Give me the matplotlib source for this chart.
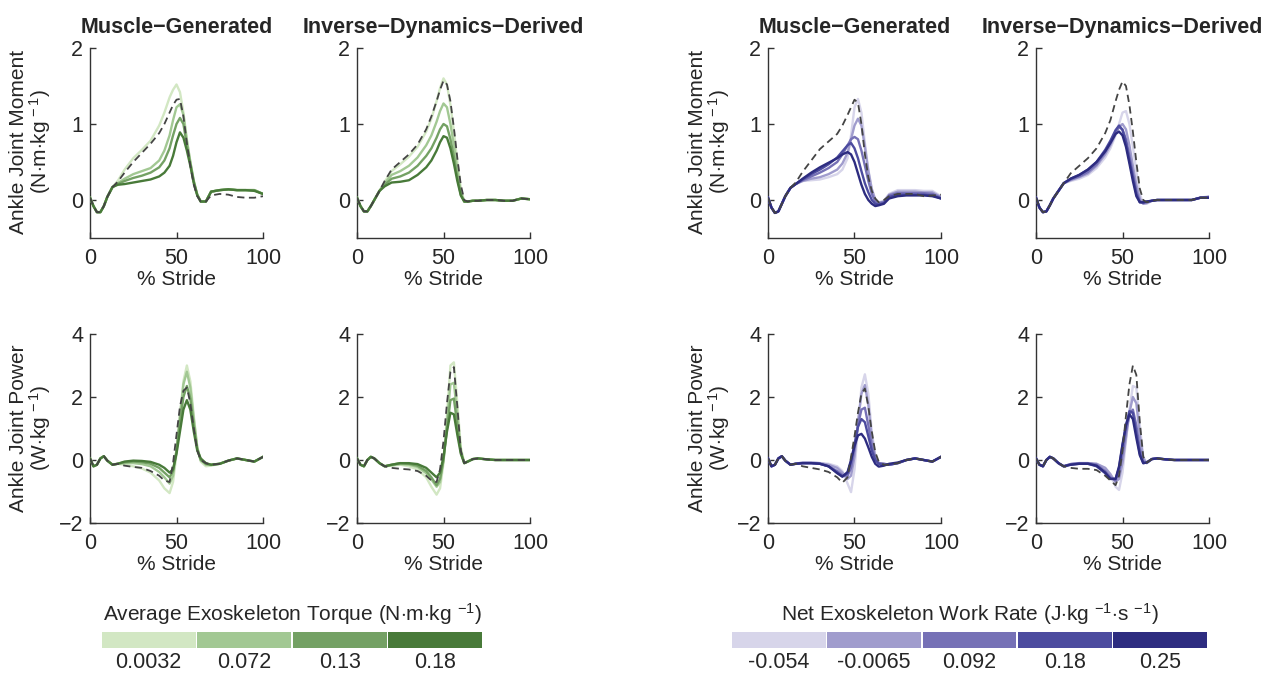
import numpy as np
import matplotlib
matplotlib.use('Agg')
import matplotlib.pyplot as plt

plt.rcParams['font.family'] = ['Liberation Sans', 'DejaVu Sans']
plt.rcParams['mathtext.fontset'] = 'custom'
plt.rcParams['mathtext.rm'] = 'Liberation Sans'
plt.rcParams['mathtext.it'] = 'Liberation Sans'

# % stride sample points
stride = [0, 2, 4, 6, 8, 10, 13, 16, 20, 25, 30, 35, 40, 43, 46, 48, 50, 52, 54, 56, 58, 60, 62, 64, 67, 70, 75, 80, 85, 90, 95, 100]

# legend values
torque_vals = ['0.0032', '0.072', '0.13', '0.18']
work_vals = ['-0.054', '-0.0065', '0.092', '0.18', '0.25']
green = ['#d2e7c3', '#a2c893', '#74a164', '#487a39']
purple = ['#d7d5ea', '#a09ccd', '#7671b6', '#4c4b9f', '#2d2c80']

# ---- ankle moment, muscle generated, green (torque groups) ----
mom_mus_g_norm = [0.03, -0.08, -0.16, -0.16, -0.08, 0.04, 0.17, 0.24, 0.36, 0.50, 0.62, 0.74, 0.88, 1.00, 1.15, 1.25, 1.32, 1.33, 1.10, 0.75, 0.45, 0.20, 0.05, -0.02, -0.02, 0.06, 0.08, 0.07, 0.04, 0.03, 0.03, 0.05]
mom_mus_g = [
    [0.03, -0.08, -0.16, -0.16, -0.08, 0.04, 0.17, 0.25, 0.40, 0.55, 0.66, 0.78, 0.98, 1.15, 1.35, 1.45, 1.52, 1.42, 1.15, 0.80, 0.50, 0.25, 0.07, -0.02, -0.02, 0.11, 0.13, 0.14, 0.13, 0.13, 0.13, 0.08],
    [0.03, -0.08, -0.16, -0.16, -0.08, 0.04, 0.17, 0.22, 0.28, 0.34, 0.38, 0.42, 0.52, 0.65, 0.85, 1.05, 1.22, 1.26, 1.12, 0.78, 0.50, 0.25, 0.07, -0.02, -0.02, 0.11, 0.13, 0.14, 0.13, 0.13, 0.13, 0.08],
    [0.03, -0.08, -0.16, -0.16, -0.08, 0.04, 0.17, 0.21, 0.25, 0.29, 0.32, 0.36, 0.43, 0.52, 0.68, 0.85, 1.00, 1.08, 1.00, 0.72, 0.48, 0.24, 0.07, -0.02, -0.02, 0.11, 0.13, 0.14, 0.13, 0.13, 0.13, 0.08],
    [0.03, -0.08, -0.16, -0.16, -0.08, 0.04, 0.17, 0.20, 0.21, 0.23, 0.25, 0.27, 0.31, 0.36, 0.45, 0.58, 0.76, 0.89, 0.82, 0.65, 0.45, 0.22, 0.06, -0.02, -0.02, 0.11, 0.13, 0.14, 0.13, 0.13, 0.12, 0.08],
]

# ---- ankle moment, inverse dynamics, green ----
mom_id_g_norm = [0.03, -0.08, -0.15, -0.15, -0.08, 0.00, 0.12, 0.25, 0.40, 0.50, 0.60, 0.73, 0.93, 1.10, 1.30, 1.45, 1.57, 1.52, 1.30, 0.95, 0.55, 0.20, 0.00, -0.02, -0.01, -0.01, 0.00, 0.00, -0.01, -0.01, 0.02, 0.01]
mom_id_g = [
    [0.03, -0.08, -0.15, -0.15, -0.08, 0.00, 0.12, 0.24, 0.38, 0.47, 0.57, 0.70, 0.90, 1.07, 1.30, 1.47, 1.60, 1.52, 1.25, 0.90, 0.50, 0.15, -0.02, -0.02, -0.01, -0.01, 0.00, 0.00, -0.01, -0.01, 0.02, 0.01],
    [0.03, -0.08, -0.15, -0.15, -0.08, 0.00, 0.12, 0.22, 0.33, 0.38, 0.45, 0.56, 0.72, 0.85, 1.03, 1.17, 1.27, 1.22, 1.00, 0.72, 0.40, 0.10, -0.02, -0.02, -0.01, -0.01, 0.00, 0.00, -0.01, -0.01, 0.02, 0.01],
    [0.03, -0.08, -0.15, -0.15, -0.08, 0.00, 0.12, 0.20, 0.28, 0.31, 0.36, 0.45, 0.58, 0.68, 0.82, 0.93, 1.00, 0.97, 0.80, 0.57, 0.30, 0.07, -0.02, -0.02, -0.01, -0.01, 0.00, 0.00, -0.01, -0.01, 0.02, 0.01],
    [0.03, -0.08, -0.15, -0.15, -0.08, 0.00, 0.12, 0.18, 0.23, 0.24, 0.26, 0.33, 0.43, 0.52, 0.65, 0.76, 0.84, 0.82, 0.68, 0.48, 0.25, 0.06, -0.02, -0.02, -0.01, -0.01, 0.00, 0.00, -0.01, -0.01, 0.02, 0.01],
]

# ---- ankle moment, muscle generated, purple (work rate groups) ----
mom_mus_p_norm = [0.03, -0.10, -0.17, -0.15, -0.05, 0.05, 0.16, 0.23, 0.37, 0.52, 0.67, 0.77, 0.87, 0.98, 1.12, 1.22, 1.32, 1.28, 1.00, 0.60, 0.30, 0.12, 0.02, -0.03, 0.00, 0.05, 0.08, 0.08, 0.08, 0.05, 0.06, 0.07]
mom_mus_p = [
    [0.03, -0.10, -0.17, -0.15, -0.05, 0.05, 0.16, 0.21, 0.25, 0.26, 0.27, 0.30, 0.34, 0.40, 0.55, 0.85, 1.22, 1.33, 1.15, 0.75, 0.40, 0.15, 0.01, -0.03, -0.01, 0.08, 0.13, 0.13, 0.13, 0.12, 0.12, 0.05],
    [0.03, -0.10, -0.17, -0.15, -0.05, 0.05, 0.16, 0.21, 0.25, 0.28, 0.30, 0.34, 0.40, 0.48, 0.62, 0.80, 0.98, 1.07, 0.98, 0.70, 0.38, 0.14, 0.00, -0.04, -0.02, 0.07, 0.11, 0.11, 0.11, 0.10, 0.10, 0.04],
    [0.03, -0.10, -0.17, -0.15, -0.05, 0.05, 0.16, 0.21, 0.26, 0.31, 0.36, 0.42, 0.50, 0.60, 0.72, 0.80, 0.83, 0.80, 0.65, 0.45, 0.25, 0.08, -0.02, -0.04, -0.03, 0.06, 0.09, 0.09, 0.09, 0.09, 0.08, 0.03],
    [0.03, -0.10, -0.17, -0.15, -0.05, 0.05, 0.16, 0.21, 0.27, 0.34, 0.40, 0.47, 0.56, 0.64, 0.72, 0.75, 0.68, 0.55, 0.38, 0.22, 0.10, 0.00, -0.05, -0.06, -0.04, 0.04, 0.07, 0.07, 0.07, 0.07, 0.06, 0.02],
    [0.03, -0.10, -0.17, -0.15, -0.05, 0.05, 0.16, 0.21, 0.28, 0.36, 0.43, 0.49, 0.55, 0.60, 0.63, 0.60, 0.50, 0.35, 0.20, 0.08, 0.00, -0.05, -0.08, -0.07, -0.05, 0.02, 0.05, 0.06, 0.06, 0.06, 0.05, 0.02],
]

# ---- ankle moment, inverse dynamics, purple ----
mom_id_p_norm = [0.03, -0.10, -0.16, -0.15, -0.07, 0.02, 0.12, 0.22, 0.35, 0.45, 0.55, 0.68, 0.88, 1.05, 1.30, 1.45, 1.56, 1.50, 1.25, 0.90, 0.50, 0.15, 0.00, -0.03, -0.01, 0.00, 0.00, 0.00, 0.00, 0.00, 0.03, 0.03]
mom_id_p = [
    [0.03, -0.10, -0.16, -0.15, -0.07, 0.02, 0.12, 0.22, 0.25, 0.28, 0.33, 0.42, 0.56, 0.68, 0.85, 1.00, 1.15, 1.17, 1.00, 0.70, 0.38, 0.08, -0.05, -0.05, -0.01, 0.00, 0.00, 0.00, 0.00, 0.00, 0.03, 0.05],
    [0.03, -0.10, -0.16, -0.15, -0.07, 0.02, 0.12, 0.22, 0.26, 0.30, 0.35, 0.45, 0.60, 0.72, 0.87, 0.96, 1.00, 0.93, 0.72, 0.45, 0.20, 0.02, -0.05, -0.04, -0.01, 0.00, 0.00, 0.00, 0.00, 0.00, 0.03, 0.04],
    [0.03, -0.10, -0.16, -0.15, -0.07, 0.02, 0.12, 0.22, 0.27, 0.31, 0.37, 0.47, 0.63, 0.75, 0.90, 0.96, 0.93, 0.80, 0.58, 0.35, 0.12, -0.02, -0.04, -0.03, -0.01, 0.00, 0.00, 0.00, 0.00, 0.00, 0.03, 0.04],
    [0.03, -0.10, -0.16, -0.15, -0.07, 0.02, 0.12, 0.22, 0.28, 0.33, 0.40, 0.50, 0.66, 0.78, 0.92, 0.98, 0.92, 0.76, 0.52, 0.30, 0.08, -0.03, -0.03, -0.02, -0.01, 0.00, 0.00, 0.00, 0.00, 0.00, 0.03, 0.03],
    [0.03, -0.10, -0.16, -0.15, -0.07, 0.02, 0.12, 0.22, 0.28, 0.33, 0.40, 0.50, 0.64, 0.75, 0.87, 0.90, 0.85, 0.70, 0.48, 0.25, 0.05, -0.03, -0.03, -0.02, -0.01, 0.00, 0.00, 0.00, 0.00, 0.00, 0.03, 0.03],
]

# ---- ankle power, muscle generated, green ----
pow_mus_g_norm = [0.05, -0.20, -0.15, 0.05, 0.12, -0.02, -0.15, -0.12, -0.18, -0.22, -0.25, -0.35, -0.50, -0.65, -0.70, -0.10, 0.80, 1.70, 2.20, 2.30, 1.80, 1.00, 0.30, 0.00, -0.10, -0.15, -0.12, -0.02, 0.05, 0.00, -0.05, 0.10]
pow_mus_g = [
    [0.05, -0.20, -0.15, 0.05, 0.12, -0.02, -0.15, -0.12, -0.15, -0.20, -0.27, -0.40, -0.65, -0.90, -1.05, -0.70, 0.20, 1.40, 2.50, 3.00, 2.50, 1.40, 0.40, -0.05, -0.20, -0.18, -0.12, -0.02, 0.05, 0.00, -0.05, 0.10],
    [0.05, -0.20, -0.15, 0.05, 0.12, -0.02, -0.15, -0.12, -0.10, -0.10, -0.13, -0.20, -0.38, -0.55, -0.75, -0.50, 0.30, 1.40, 2.40, 2.80, 2.30, 1.30, 0.40, 0.00, -0.15, -0.16, -0.12, -0.02, 0.05, 0.00, -0.05, 0.10],
    [0.05, -0.20, -0.15, 0.05, 0.12, -0.02, -0.15, -0.12, -0.07, -0.05, -0.07, -0.12, -0.25, -0.40, -0.55, -0.35, 0.30, 1.20, 2.00, 2.35, 1.95, 1.10, 0.35, 0.00, -0.12, -0.15, -0.12, -0.02, 0.05, 0.00, -0.05, 0.10],
    [0.05, -0.20, -0.15, 0.05, 0.12, -0.02, -0.15, -0.12, -0.05, -0.02, -0.03, -0.06, -0.15, -0.25, -0.40, -0.30, 0.20, 0.90, 1.60, 1.90, 1.60, 0.90, 0.30, 0.05, -0.10, -0.15, -0.12, -0.02, 0.05, 0.00, -0.05, 0.10],
]

# ---- ankle power, inverse dynamics, green ----
pow_id_g_norm = [0.05, -0.15, -0.20, 0.00, 0.10, 0.05, -0.10, -0.20, -0.25, -0.28, -0.30, -0.35, -0.50, -0.65, -0.70, -0.30, 0.60, 1.80, 2.80, 2.95, 1.70, 0.30, -0.10, -0.05, 0.03, 0.05, 0.02, 0.00, 0.00, 0.00, 0.00, 0.00]
pow_id_g = [
    [0.05, -0.15, -0.20, 0.00, 0.10, 0.05, -0.10, -0.20, -0.18, -0.15, -0.20, -0.30, -0.55, -0.85, -1.10, -0.90, -0.10, 1.40, 3.00, 3.10, 1.80, 0.40, -0.10, -0.05, 0.03, 0.05, 0.02, 0.00, 0.00, 0.00, 0.00, 0.00],
    [0.05, -0.15, -0.20, 0.00, 0.10, 0.05, -0.10, -0.20, -0.17, -0.13, -0.15, -0.22, -0.42, -0.62, -0.85, -0.70, 0.00, 1.20, 2.40, 2.45, 1.40, 0.30, -0.10, -0.05, 0.03, 0.05, 0.02, 0.00, 0.00, 0.00, 0.00, 0.00],
    [0.05, -0.15, -0.20, 0.00, 0.10, 0.05, -0.10, -0.20, -0.15, -0.10, -0.12, -0.18, -0.35, -0.55, -0.80, -0.60, 0.00, 1.00, 1.90, 1.95, 1.10, 0.25, -0.10, -0.05, 0.03, 0.05, 0.02, 0.00, 0.00, 0.00, 0.00, 0.00],
    [0.05, -0.15, -0.20, 0.00, 0.10, 0.05, -0.10, -0.20, -0.15, -0.10, -0.10, -0.13, -0.25, -0.40, -0.55, -0.40, 0.10, 0.90, 1.50, 1.45, 0.80, 0.20, -0.10, -0.05, 0.03, 0.05, 0.02, 0.00, 0.00, 0.00, 0.00, 0.00],
]

# ---- ankle power, muscle generated, purple ----
pow_mus_p_norm = [0.05, -0.20, -0.15, 0.05, 0.12, -0.02, -0.15, -0.12, -0.20, -0.25, -0.30, -0.38, -0.55, -0.72, -0.55, 0.10, 0.75, 1.50, 2.10, 2.27, 1.70, 0.90, 0.25, -0.05, -0.15, -0.15, -0.10, 0.00, 0.05, 0.00, -0.05, 0.10]
pow_mus_p = [
    [0.05, -0.20, -0.15, 0.05, 0.12, -0.02, -0.15, -0.12, -0.08, -0.08, -0.10, -0.12, -0.20, -0.35, -0.75, -1.02, -0.30, 1.00, 2.30, 2.72, 2.10, 0.90, 0.15, -0.10, -0.15, -0.15, -0.10, 0.00, 0.05, 0.00, -0.05, 0.10],
    [0.05, -0.20, -0.15, 0.05, 0.12, -0.02, -0.15, -0.12, -0.08, -0.08, -0.10, -0.15, -0.25, -0.40, -0.60, -0.50, 0.10, 1.20, 2.10, 2.38, 1.75, 0.70, 0.10, -0.10, -0.12, -0.15, -0.10, 0.00, 0.05, 0.00, -0.05, 0.10],
    [0.05, -0.20, -0.15, 0.05, 0.12, -0.02, -0.15, -0.12, -0.10, -0.10, -0.12, -0.20, -0.35, -0.48, -0.50, -0.25, 0.35, 1.10, 1.60, 1.66, 1.10, 0.45, 0.05, -0.10, -0.12, -0.15, -0.10, 0.00, 0.05, 0.00, -0.05, 0.10],
    [0.05, -0.20, -0.15, 0.05, 0.12, -0.02, -0.15, -0.12, -0.10, -0.10, -0.12, -0.20, -0.40, -0.52, -0.42, -0.05, 0.50, 1.05, 1.30, 1.20, 0.75, 0.30, 0.00, -0.12, -0.15, -0.15, -0.10, 0.00, 0.05, 0.00, -0.05, 0.10],
    [0.05, -0.20, -0.15, 0.05, 0.12, -0.02, -0.15, -0.12, -0.10, -0.10, -0.12, -0.20, -0.42, -0.53, -0.38, 0.00, 0.45, 0.78, 0.83, 0.68, 0.40, 0.10, -0.12, -0.21, -0.18, -0.12, -0.08, 0.00, 0.05, 0.00, -0.05, 0.10],
]

# ---- ankle power, inverse dynamics, purple ----
pow_id_p_norm = [0.05, -0.15, -0.20, 0.00, 0.10, 0.05, -0.10, -0.20, -0.25, -0.28, -0.28, -0.32, -0.50, -0.65, -0.80, -0.50, 0.30, 1.40, 2.40, 3.00, 2.70, 1.20, 0.10, -0.08, 0.03, 0.05, 0.02, 0.00, 0.00, 0.00, 0.00, 0.00]
pow_id_p = [
    [0.05, -0.15, -0.20, 0.00, 0.10, 0.05, -0.10, -0.20, -0.13, -0.10, -0.10, -0.12, -0.25, -0.45, -0.85, -0.95, -0.40, 0.60, 1.60, 2.35, 2.30, 1.10, 0.10, -0.10, 0.03, 0.05, 0.02, 0.00, 0.00, 0.00, 0.00, 0.00],
    [0.05, -0.15, -0.20, 0.00, 0.10, 0.05, -0.10, -0.20, -0.13, -0.10, -0.10, -0.12, -0.25, -0.45, -0.70, -0.60, -0.10, 0.70, 1.50, 2.00, 1.80, 0.80, 0.05, -0.10, 0.03, 0.05, 0.02, 0.00, 0.00, 0.00, 0.00, 0.00],
    [0.05, -0.15, -0.20, 0.00, 0.10, 0.05, -0.10, -0.20, -0.13, -0.10, -0.10, -0.15, -0.35, -0.55, -0.65, -0.40, 0.20, 0.90, 1.45, 1.60, 1.10, 0.35, -0.05, -0.08, 0.03, 0.05, 0.02, 0.00, 0.00, 0.00, 0.00, 0.00],
    [0.05, -0.15, -0.20, 0.00, 0.10, 0.05, -0.10, -0.20, -0.15, -0.12, -0.12, -0.20, -0.42, -0.60, -0.60, -0.25, 0.45, 1.10, 1.55, 1.50, 0.85, 0.20, -0.10, -0.08, 0.03, 0.05, 0.02, 0.00, 0.00, 0.00, 0.00, 0.00],
    [0.05, -0.15, -0.20, 0.00, 0.10, 0.05, -0.10, -0.20, -0.15, -0.12, -0.12, -0.18, -0.40, -0.60, -0.60, -0.20, 0.50, 1.10, 1.45, 1.30, 0.70, 0.15, -0.10, -0.08, 0.03, 0.05, 0.02, 0.00, 0.00, 0.00, 0.00, 0.00],
]

W, H = 1284, 675
fig = plt.figure(figsize=(W / 100, H / 100), dpi=100)

def box(x0, x1, ytop, ybot):
    return [x0 / W, 1 - ybot / H, (x1 - x0) / W, (ybot - ytop) / H]

cols = [(90, 263), (357, 530), (768, 941), (1036, 1209)]
rows = [(48, 238), (334, 523)]
dark = '#262626'

panels = [
    (0, 0, mom_mus_g, mom_mus_g_norm, green, 'Muscle\u2212Generated'),
    (0, 1, mom_id_g, mom_id_g_norm, green, 'Inverse\u2212Dynamics\u2212Derived'),
    (0, 2, mom_mus_p, mom_mus_p_norm, purple, 'Muscle\u2212Generated'),
    (0, 3, mom_id_p, mom_id_p_norm, purple, 'Inverse\u2212Dynamics\u2212Derived'),
    (1, 0, pow_mus_g, pow_mus_g_norm, green, None),
    (1, 1, pow_id_g, pow_id_g_norm, green, None),
    (1, 2, pow_mus_p, pow_mus_p_norm, purple, None),
    (1, 3, pow_id_p, pow_id_p_norm, purple, None),
]

for r, c, curves, norm, cmap, title in panels:
    ax = fig.add_axes(box(cols[c][0], cols[c][1], rows[r][0], rows[r][1]))
    for k, yv in enumerate(curves):
        ax.plot(stride, yv, color=cmap[k], lw=1.7, solid_joinstyle='round', zorder=2 + k)
    ax.plot(stride, norm, color='#444444', lw=1.3, ls=(0, (4, 2.5)), zorder=10)
    ax.set_xlim(0, 100)
    if r == 0:
        ax.set_ylim(-0.5, 2)
        ax.set_yticks([0, 1, 2])
        ax.set_title(title, fontsize=15.5, fontweight='bold', color=dark, pad=11)
    else:
        ax.set_ylim(-2, 4)
        ax.set_yticks([-2, 0, 2, 4])
        ax.set_yticklabels(['\u22122', '0', '2', '4'])
    ax.set_xticks([0, 50, 100])
    ax.set_xlabel('% Stride', fontsize=15, color=dark, labelpad=1)
    for s in ['top', 'right']:
        ax.spines[s].set_visible(False)
    for s in ['left', 'bottom']:
        ax.spines[s].set_color('#333333')
        ax.spines[s].set_linewidth(1.0)
    ax.tick_params(direction='in', length=4, width=1, colors='#333333', labelcolor=dark, labelsize=15.5)
    ax.tick_params(axis='x', pad=7)
    ax.tick_params(axis='y', pad=5)

# y labels
ylab_top = 'Ankle Joint Moment\n(N$\\cdot$m$\\cdot$kg$^{\\,-1}$)'
ylab_bot = 'Ankle Joint Power\n(W$\\cdot$kg$^{\\,-1}$)'
for xc in [31, 710]:
    fig.text(xc / W, 1 - 142 / H, ylab_top, rotation=90, ha='center', va='center',
             fontsize=15, color=dark, multialignment='center', linespacing=1.0)
    fig.text(xc / W, 1 - 428 / H, ylab_bot, rotation=90, ha='center', va='center',
             fontsize=15, color=dark, multialignment='center', linespacing=1.0)

# discrete colour legends
def legend_bar(x0, x1, colors, labels, title):
    lax = fig.add_axes(box(x0, x1, 632, 648))
    idx = np.arange(len(colors))
    lax.bar(idx, np.ones(len(colors)), width=0.985, color=colors, align='center')
    lax.set_xlim(-0.5, len(colors) - 0.5)
    lax.set_ylim(0, 1)
    lax.set_yticks([])
    lax.set_xticks(idx)
    lax.set_xticklabels(labels, fontsize=15.5, color=dark)
    lax.tick_params(length=0, pad=3)
    for s in lax.spines.values():
        s.set_visible(False)
    lax.set_title(title, fontsize=15, color=dark, pad=8)

legend_bar(101, 483, green, torque_vals, 'Average Exoskeleton Torque (N$\\cdot$m$\\cdot$kg $^{-1}$)')
legend_bar(731, 1208, purple, work_vals, 'Net Exoskeleton Work Rate (J$\\cdot$kg $^{-1}$$\\cdot$s $^{-1}$)')

fig.savefig('out.png', dpi=100)
